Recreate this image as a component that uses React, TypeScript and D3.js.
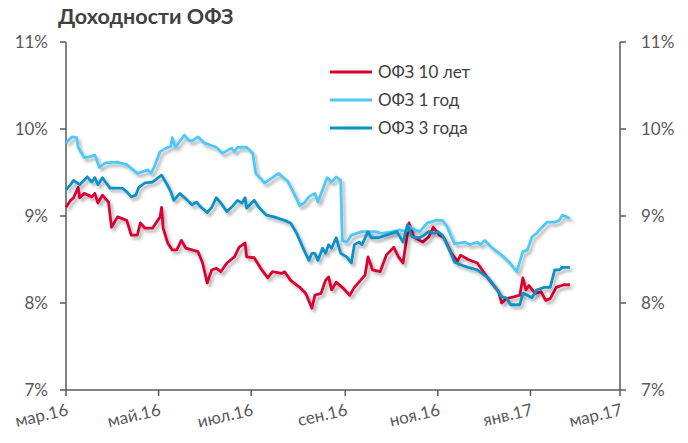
import React from "react";
import * as d3 from "d3";

const title = "Доходности ОФЗ";
const yTicks = [7, 8, 9, 10, 11];
const xTickDates = ["2016-03-01", "2016-05-01", "2016-07-01", "2016-09-01", "2016-11-01", "2017-01-01", "2017-03-01"];
const xTickLabels = ["мар.16", "май.16", "июл.16", "сен.16", "ноя.16", "янв.17", "мар.17"];
const seriesNames = ["ОФЗ 10 лет", "ОФЗ 1 год", "ОФЗ 3 года"];
const seriesColors = ["#DC0032", "#4DC8F8", "#0A90C8"];

const ofz10: [string, number][] = [
  ["2016-03-01", 9.10], ["2016-03-04", 9.18], ["2016-03-06", 9.21], ["2016-03-09", 9.33], ["2016-03-10", 9.21],
  ["2016-03-13", 9.26], ["2016-03-18", 9.22], ["2016-03-20", 9.26], ["2016-03-22", 9.15], ["2016-03-25", 9.24],
  ["2016-03-29", 9.16], ["2016-03-31", 8.87], ["2016-04-04", 8.99], ["2016-04-10", 8.95], ["2016-04-13", 8.78],
  ["2016-04-17", 8.78], ["2016-04-19", 8.92], ["2016-04-22", 8.86], ["2016-04-27", 8.86], ["2016-05-02", 8.99],
  ["2016-05-03", 9.10], ["2016-05-04", 8.86], ["2016-05-07", 8.69], ["2016-05-10", 8.61], ["2016-05-13", 8.61],
  ["2016-05-16", 8.72], ["2016-05-19", 8.63], ["2016-05-23", 8.61], ["2016-05-27", 8.59], ["2016-05-30", 8.46],
  ["2016-06-02", 8.23], ["2016-06-05", 8.38], ["2016-06-08", 8.40], ["2016-06-11", 8.36], ["2016-06-15", 8.46],
  ["2016-06-20", 8.53], ["2016-06-23", 8.64], ["2016-06-27", 8.69], ["2016-06-28", 8.53], ["2016-07-03", 8.52],
  ["2016-07-08", 8.38], ["2016-07-12", 8.29], ["2016-07-15", 8.36], ["2016-07-21", 8.34], ["2016-07-23", 8.36],
  ["2016-07-27", 8.26], ["2016-08-02", 8.18], ["2016-08-06", 8.11], ["2016-08-10", 7.94], ["2016-08-12", 8.09],
  ["2016-08-16", 8.11], ["2016-08-19", 8.26], ["2016-08-21", 8.30], ["2016-08-23", 8.15], ["2016-08-26", 8.24],
  ["2016-08-30", 8.18], ["2016-09-04", 8.09], ["2016-09-07", 8.18], ["2016-09-10", 8.24], ["2016-09-14", 8.32],
  ["2016-09-16", 8.53], ["2016-09-19", 8.38], ["2016-09-24", 8.36], ["2016-09-28", 8.55], ["2016-10-03", 8.64],
  ["2016-10-06", 8.53], ["2016-10-09", 8.46], ["2016-10-13", 8.92], ["2016-10-16", 8.76], ["2016-10-22", 8.70],
  ["2016-10-26", 8.76], ["2016-10-29", 8.87], ["2016-11-02", 8.78], ["2016-11-05", 8.75], ["2016-11-10", 8.57],
  ["2016-11-14", 8.48], ["2016-11-16", 8.55], ["2016-11-21", 8.50], ["2016-11-27", 8.46], ["2016-12-01", 8.36],
  ["2016-12-06", 8.24], ["2016-12-11", 8.13], ["2016-12-13", 8.00], ["2016-12-16", 8.05], ["2016-12-21", 8.07],
  ["2016-12-25", 8.09], ["2016-12-27", 8.29], ["2016-12-29", 8.15], ["2016-12-31", 8.20], ["2017-01-04", 8.11],
  ["2017-01-08", 8.13], ["2017-01-11", 8.03], ["2017-01-14", 8.05], ["2017-01-18", 8.18], ["2017-01-23", 8.21],
  ["2017-01-27", 8.21],
];

const ofz1: [string, number][] = [
  ["2016-03-01", 9.84], ["2016-03-05", 9.91], ["2016-03-08", 9.90], ["2016-03-09", 9.79], ["2016-03-13", 9.67],
  ["2016-03-16", 9.68], ["2016-03-20", 9.70], ["2016-03-23", 9.56], ["2016-03-27", 9.61], ["2016-04-04", 9.62],
  ["2016-04-10", 9.59], ["2016-04-17", 9.49], ["2016-04-24", 9.53], ["2016-04-26", 9.49], ["2016-04-28", 9.56],
  ["2016-05-02", 9.74], ["2016-05-06", 9.78], ["2016-05-09", 9.80], ["2016-05-10", 9.90], ["2016-05-12", 9.79],
  ["2016-05-18", 9.93], ["2016-05-21", 9.87], ["2016-05-23", 9.86], ["2016-05-27", 9.91], ["2016-05-31", 9.84],
  ["2016-06-08", 9.79], ["2016-06-12", 9.72], ["2016-06-18", 9.78], ["2016-06-20", 9.74], ["2016-06-22", 9.79],
  ["2016-06-28", 9.79], ["2016-07-02", 9.72], ["2016-07-04", 9.49], ["2016-07-10", 9.38], ["2016-07-15", 9.44],
  ["2016-07-19", 9.49], ["2016-07-25", 9.40], ["2016-07-28", 9.30], ["2016-08-02", 9.12], ["2016-08-05", 9.15],
  ["2016-08-08", 9.22], ["2016-08-12", 9.26], ["2016-08-14", 9.16], ["2016-08-17", 9.30], ["2016-08-20", 9.44],
  ["2016-08-23", 9.39], ["2016-08-26", 9.45], ["2016-08-29", 9.41], ["2016-08-30", 8.72], ["2016-09-02", 8.70],
  ["2016-09-05", 8.78], ["2016-09-12", 8.82], ["2016-09-21", 8.82], ["2016-09-25", 8.80], ["2016-10-02", 8.82],
  ["2016-10-07", 8.84], ["2016-10-11", 8.82], ["2016-10-13", 8.88], ["2016-10-17", 8.84], ["2016-10-20", 8.82],
  ["2016-10-25", 8.92], ["2016-10-31", 8.95], ["2016-11-04", 8.95], ["2016-11-07", 8.88], ["2016-11-12", 8.68],
  ["2016-11-19", 8.70], ["2016-11-22", 8.67], ["2016-11-27", 8.70], ["2016-11-29", 8.67], ["2016-12-02", 8.72],
  ["2016-12-07", 8.63], ["2016-12-13", 8.55], ["2016-12-18", 8.47], ["2016-12-23", 8.36], ["2016-12-27", 8.59],
  ["2016-12-30", 8.61], ["2017-01-02", 8.76], ["2017-01-05", 8.80], ["2017-01-08", 8.86], ["2017-01-12", 8.93],
  ["2017-01-17", 8.93], ["2017-01-20", 8.95], ["2017-01-22", 9.01], ["2017-01-25", 8.99], ["2017-01-27", 8.97],
];

const ofz3: [string, number][] = [
  ["2016-03-01", 9.30], ["2016-03-04", 9.36], ["2016-03-06", 9.41], ["2016-03-10", 9.36], ["2016-03-15", 9.45],
  ["2016-03-18", 9.39], ["2016-03-20", 9.44], ["2016-03-22", 9.36], ["2016-03-25", 9.44], ["2016-03-30", 9.32],
  ["2016-04-04", 9.32], ["2016-04-07", 9.32], ["2016-04-10", 9.28], ["2016-04-13", 9.22], ["2016-04-16", 9.24],
  ["2016-04-18", 9.33], ["2016-04-22", 9.38], ["2016-04-27", 9.39], ["2016-05-03", 9.47], ["2016-05-06", 9.38],
  ["2016-05-09", 9.28], ["2016-05-11", 9.18], ["2016-05-15", 9.26], ["2016-05-20", 9.18], ["2016-05-23", 9.13],
  ["2016-05-26", 9.16], ["2016-05-29", 9.10], ["2016-06-02", 9.04], ["2016-06-05", 9.10], ["2016-06-08", 9.21],
  ["2016-06-11", 9.15], ["2016-06-15", 9.05], ["2016-06-18", 9.10], ["2016-06-22", 9.18], ["2016-06-25", 9.15],
  ["2016-06-27", 9.21], ["2016-06-28", 9.09], ["2016-07-03", 9.18], ["2016-07-06", 9.10], ["2016-07-11", 9.01],
  ["2016-07-16", 8.99], ["2016-07-23", 8.95], ["2016-07-27", 8.92], ["2016-07-31", 8.80], ["2016-08-04", 8.64],
  ["2016-08-08", 8.49], ["2016-08-10", 8.57], ["2016-08-12", 8.57], ["2016-08-14", 8.49], ["2016-08-17", 8.63],
  ["2016-08-19", 8.57], ["2016-08-21", 8.67], ["2016-08-23", 8.63], ["2016-08-26", 8.75], ["2016-08-29", 8.57],
  ["2016-09-02", 8.53], ["2016-09-05", 8.46], ["2016-09-07", 8.67], ["2016-09-10", 8.70], ["2016-09-12", 8.67],
  ["2016-09-16", 8.82], ["2016-09-18", 8.75], ["2016-09-23", 8.75], ["2016-09-28", 8.78], ["2016-10-05", 8.82],
  ["2016-10-09", 8.70], ["2016-10-12", 8.90], ["2016-10-15", 8.76], ["2016-10-20", 8.75], ["2016-10-23", 8.78],
  ["2016-10-26", 8.82], ["2016-10-30", 8.80], ["2016-11-01", 8.82], ["2016-11-04", 8.78], ["2016-11-08", 8.63],
  ["2016-11-12", 8.47], ["2016-11-16", 8.44], ["2016-11-21", 8.41], ["2016-11-27", 8.38], ["2016-12-04", 8.29],
  ["2016-12-09", 8.18], ["2016-12-13", 8.07], ["2016-12-16", 8.06], ["2016-12-19", 7.98], ["2016-12-25", 7.98],
  ["2016-12-27", 8.11], ["2016-12-30", 8.09], ["2017-01-02", 8.06], ["2017-01-05", 8.15], ["2017-01-10", 8.18],
  ["2017-01-14", 8.18], ["2017-01-17", 8.38], ["2017-01-20", 8.38], ["2017-01-22", 8.41], ["2017-01-27", 8.41],
];

const allSeries = [ofz10, ofz1, ofz3];

const W = 688;
const H = 443;
const M = { left: 66, right: 620, top: 42, bottom: 390 };
const FONT = "Lato, 'Open Sans', sans-serif";
const TEXT = "#595959";

export default function App() {
  const parse = d3.timeParse("%Y-%m-%d");
  const x = d3
    .scaleTime()
    .domain([parse("2016-03-01") as Date, parse("2017-03-01") as Date])
    .range([M.left, M.right]);
  const y = d3.scaleLinear().domain([7, 11]).range([M.bottom, M.top]);
  const line = d3
    .line<[string, number]>()
    .x((d) => x(parse(d[0]) as Date))
    .y((d) => y(d[1]));

  return (
    <svg width={W} height={H} style={{ position: "absolute", left: 0, top: 0, background: "#fff" }}>
      <defs>
        <filter id="shadow" x="-10%" y="-10%" width="120%" height="130%">
          <feDropShadow dx="2.5" dy="3" stdDeviation="1.8" floodColor="#000" floodOpacity="0.3" />
        </filter>
      </defs>
      <text x={58} y={24} fontFamily={FONT} fontWeight="bold" fontSize={21.5} fill="#404040">
        {title}
      </text>

      {/* axes */}
      <g stroke="#595959" strokeWidth={1.5} fill="none">
        <line x1={M.left} x2={M.left} y1={M.top} y2={M.bottom} />
        <line x1={M.right} x2={M.right} y1={M.top} y2={M.bottom} />
        <line x1={M.left} x2={M.right} y1={M.bottom} y2={M.bottom} />
        {yTicks.map((t) => (
          <g key={t}>
            <line x1={M.left - 6} x2={M.left} y1={y(t)} y2={y(t)} />
            <line x1={M.right} x2={M.right + 6} y1={y(t)} y2={y(t)} />
          </g>
        ))}
        {xTickDates.map((d) => (
          <line key={d} x1={x(parse(d) as Date)} x2={x(parse(d) as Date)} y1={M.bottom} y2={M.bottom + 6} />
        ))}
      </g>
      {yTicks.map((t) => (
        <g key={"l" + t} fontFamily={FONT} fontSize={17} fill={TEXT}>
          <text x={48} y={y(t)} dy="0.35em" textAnchor="end">
            {t}%
          </text>
          <text x={641} y={y(t)} dy="0.35em" textAnchor="start">
            {t}%
          </text>
        </g>
      ))}
      {xTickDates.map((d, i) => (
        <text
          key={"x" + d}
          transform={`translate(${x(parse(d) as Date) + 3},${M.bottom + 25}) rotate(-13)`}
          textAnchor="end"
          fontFamily={FONT}
          fontSize={17}
          fill={TEXT}
        >
          {xTickLabels[i]}
        </text>
      ))}

      {/* series */}
      {allSeries.map((s, i) => (
        <path
          key={seriesNames[i]}
          d={line(s) || ""}
          fill="none"
          stroke={seriesColors[i]}
          strokeWidth={2.8}
          strokeLinejoin="round"
          filter="url(#shadow)"
        />
      ))}

      {/* legend */}
      {seriesNames.map((n, i) => (
        <g key={"lg" + n}>
          <line x1={330} x2={372} y1={72 + i * 28} y2={72 + i * 28} stroke={seriesColors[i]} strokeWidth={3} />
          <text x={378} y={72 + i * 28} dy="0.35em" fontFamily={FONT} fontSize={17} fill="#404040">
            {n}
          </text>
        </g>
      ))}
    </svg>
  );
}
